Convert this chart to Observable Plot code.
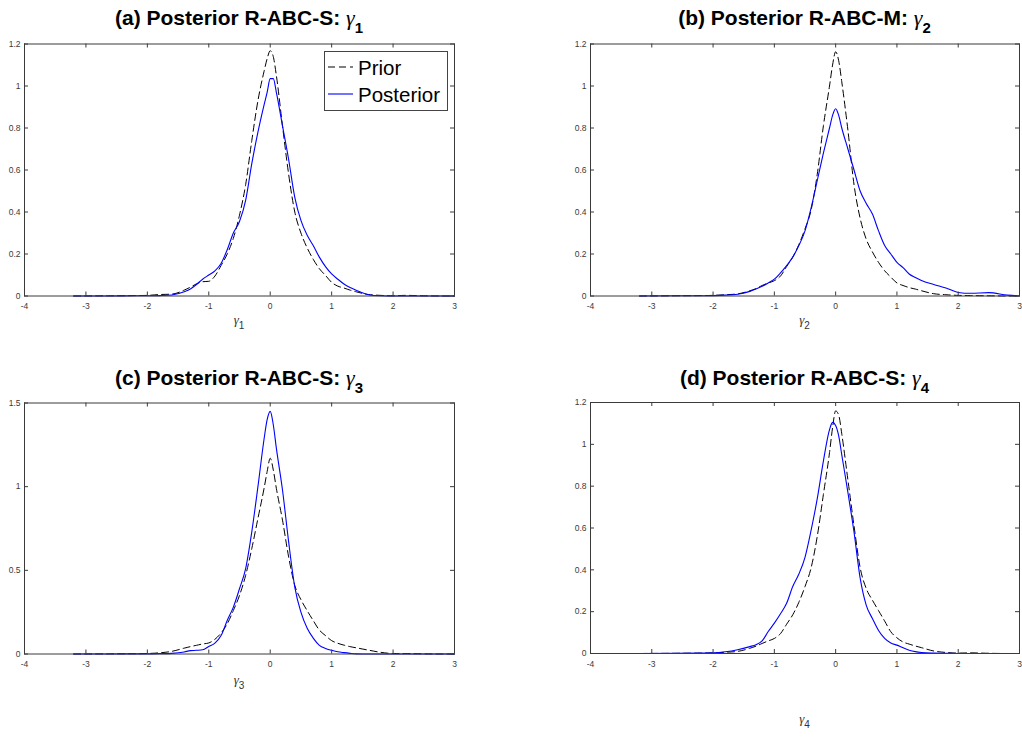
<!DOCTYPE html>
<html>
<head>
<meta charset="utf-8">
<script src="https://cdn.jsdelivr.net/npm/d3@7"></script>
<script src="https://cdn.jsdelivr.net/npm/@observablehq/plot@0.6"></script>
<style>
  html, body { margin: 0; padding: 0; background: #fff; }
  #wrap { position: relative; width: 1022px; height: 738px; background: #fff; overflow: hidden; }
  #wrap svg { position: absolute; }
</style>
</head>
<body>
<div id="wrap"></div>
<script>
// ---------- data ----------
const gridX = [-3.2, -2.6, -2.2, -2.0, -1.8, -1.6, -1.4, -1.3, -1.2, -1.1, -1.0, -0.9, -0.8, -0.7, -0.6, -0.5, -0.4, -0.3, -0.2, -0.1, -0.05, 0, 0.05, 0.1, 0.2, 0.3, 0.4, 0.5, 0.6, 0.7, 0.8, 0.9, 1.0, 1.1, 1.2, 1.3, 1.4, 1.6, 1.8, 2.0, 2.2, 2.5, 2.8, 3.0];

const priorA = [0, 0.001, 0.002, 0.003, 0.007, 0.009, 0.028, 0.042, 0.058, 0.068, 0.07, 0.095, 0.145, 0.2, 0.275, 0.385, 0.53, 0.74, 0.93, 1.07, 1.13, 1.168, 1.14, 1.05, 0.81, 0.58, 0.40, 0.30, 0.23, 0.175, 0.13, 0.098, 0.065, 0.047, 0.038, 0.028, 0.02, 0.007, 0.003, 0.001, 0.003, 0.001, 0, 0];
const postA  = [0, 0, 0.001, 0.001, 0.002, 0.005, 0.02, 0.033, 0.055, 0.08, 0.10, 0.12, 0.155, 0.22, 0.30, 0.355, 0.455, 0.63, 0.78, 0.91, 0.97, 1.035, 1.035, 0.97, 0.81, 0.65, 0.47, 0.36, 0.29, 0.24, 0.185, 0.14, 0.105, 0.08, 0.057, 0.04, 0.027, 0.006, 0.001, 0, 0, 0, 0, 0];

const priorB = [0, 0.001, 0.002, 0.003, 0.006, 0.01, 0.025, 0.035, 0.05, 0.062, 0.073, 0.095, 0.14, 0.185, 0.245, 0.32, 0.41, 0.58, 0.81, 1.0, 1.1, 1.163, 1.12, 1.02, 0.79, 0.53, 0.37, 0.27, 0.21, 0.16, 0.12, 0.09, 0.062, 0.05, 0.04, 0.033, 0.025, 0.011, 0.006, 0.003, 0.002, 0.001, 0, 0];
const postB  = [0, 0.001, 0.001, 0.002, 0.004, 0.008, 0.022, 0.033, 0.046, 0.062, 0.08, 0.11, 0.145, 0.185, 0.24, 0.31, 0.42, 0.55, 0.68, 0.80, 0.86, 0.892, 0.86, 0.80, 0.70, 0.60, 0.50, 0.44, 0.39, 0.31, 0.24, 0.20, 0.16, 0.135, 0.105, 0.088, 0.074, 0.055, 0.038, 0.017, 0.013, 0.016, 0.004, 0];

const priorC = [0, 0.001, 0.002, 0.003, 0.007, 0.016, 0.035, 0.044, 0.052, 0.06, 0.066, 0.088, 0.125, 0.18, 0.26, 0.35, 0.47, 0.63, 0.81, 0.99, 1.09, 1.17, 1.10, 0.99, 0.80, 0.58, 0.41, 0.325, 0.26, 0.20, 0.143, 0.11, 0.08, 0.064, 0.053, 0.044, 0.037, 0.023, 0.01, 0.003, 0.003, 0.001, 0, 0];
const postC  = [0, 0, 0.001, 0.001, 0.002, 0.004, 0.012, 0.02, 0.022, 0.025, 0.045, 0.065, 0.11, 0.20, 0.28, 0.39, 0.51, 0.73, 1.0, 1.285, 1.40, 1.45, 1.37, 1.23, 0.98, 0.67, 0.40, 0.25, 0.155, 0.095, 0.052, 0.033, 0.022, 0.013, 0.008, 0.004, 0.001, 0, 0, 0, 0, 0, 0, 0];

const priorD = [0, 0.001, 0.002, 0.003, 0.006, 0.01, 0.025, 0.035, 0.048, 0.06, 0.072, 0.095, 0.14, 0.185, 0.245, 0.32, 0.41, 0.56, 0.76, 0.96, 1.08, 1.16, 1.14, 1.05, 0.83, 0.61, 0.41, 0.31, 0.255, 0.205, 0.155, 0.104, 0.075, 0.055, 0.045, 0.036, 0.028, 0.012, 0.005, 0.002, 0.003, 0.001, 0, 0];
const postD  = [0, 0.001, 0.002, 0.003, 0.008, 0.018, 0.033, 0.042, 0.06, 0.105, 0.145, 0.19, 0.24, 0.32, 0.38, 0.46, 0.59, 0.74, 0.92, 1.07, 1.105, 1.09, 1.04, 0.95, 0.77, 0.58, 0.36, 0.23, 0.167, 0.11, 0.072, 0.05, 0.04, 0.027, 0.016, 0.009, 0.005, 0.002, 0.001, 0, 0, 0, 0, 0];

const xTicks = [-4, -3, -2, -1, 0, 1, 2, 3];
const yTicks12 = [0, 0.2, 0.4, 0.6, 0.8, 1, 1.2];
const yTicks15 = [0, 0.5, 1, 1.5];

const titleTexts = ["(a) Posterior R-ABC-S: ", "(b) Posterior R-ABC-M: ", "(c) Posterior R-ABC-S: ", "(d) Posterior R-ABC-S: "];
const subscripts = ["1", "2", "3", "4"];
const legendLabels = ["Prior", "Posterior"];

// ---------- layout ----------
const AX = "#3a3a3a";
const panels = [
  {prior: priorA, post: postA, yMax: 1.2, yTicks: yTicks12, left: 0,   top: 0,   ml: 24, mr: 57, mt: 43.5, mb: 34.5, titleY: 25,    labY: 324},
  {prior: priorB, post: postB, yMax: 1.2, yTicks: yTicks12, left: 511, top: 0,   ml: 79, mr: 3,  mt: 43.5, mb: 34.5, titleY: 25,    labY: 324},
  {prior: priorC, post: postC, yMax: 1.5, yTicks: yTicks15, left: 0,   top: 360, ml: 24, mr: 57, mt: 42.5, mb: 36.5, titleY: 384.5, labY: 684},
  {prior: priorD, post: postD, yMax: 1.2, yTicks: yTicks12, left: 511, top: 360, ml: 79, mr: 3,  mt: 42,   mb: 37,   titleY: 384.5, labY: 723}
];
const W = 511, H = 330;
const wrap = document.getElementById("wrap");

panels.forEach((p, k) => {
  const iw = W - p.ml - p.mr, ih = H - p.mt - p.mb;
  const svg = Plot.plot({
    width: W, height: H,
    marginLeft: p.ml, marginRight: p.mr, marginTop: p.mt, marginBottom: p.mb,
    x: {domain: [-4, 3]},
    y: {domain: [0, p.yMax]},
    style: {fontFamily: "'Liberation Sans', Arial, Helvetica, sans-serif", fontSize: "8.5px", color: AX, background: "transparent", overflow: "visible"},
    marks: [
      Plot.line(gridX, {x: gridX, y: p.prior, stroke: "#000", strokeWidth: 1, strokeDasharray: "7,4", curve: "monotone-x"}),
      Plot.line(gridX, {x: gridX, y: p.post, stroke: "#0000ff", strokeWidth: 1.1, curve: "monotone-x"}),
      Plot.tickX(xTicks, {x: d => d, insetTop: ih - 4, stroke: AX}),
      Plot.tickX(xTicks, {x: d => d, insetBottom: ih - 4, stroke: AX}),
      Plot.tickY(p.yTicks, {y: d => d, insetRight: iw - 4, stroke: AX}),
      Plot.tickY(p.yTicks, {y: d => d, insetLeft: iw - 4, stroke: AX}),
      Plot.axisX({ticks: xTicks, tickSize: 0, tickPadding: 7, tickFormat: d => String(d), label: null}),
      Plot.axisY({ticks: p.yTicks, tickSize: 0, tickPadding: 4, tickFormat: d => String(d), label: null}),
      Plot.frame({stroke: AX, strokeWidth: 1})
    ]
  });
  svg.style.left = p.left + "px";
  svg.style.top = p.top + "px";
  wrap.appendChild(svg);
});

// ---------- titles, axis labels and legend ----------
const ov = d3.select(wrap).append("svg")
  .attr("width", 1022).attr("height", 738)
  .style("left", "0px").style("top", "0px").style("pointer-events", "none")
  .attr("font-family", "'Liberation Sans', Arial, Helvetica, sans-serif");

panels.forEach((p, k) => {
  const cx = p.left + p.ml + (W - p.ml - p.mr) / 2;
  const t = ov.append("text").attr("x", cx).attr("y", p.titleY)
    .attr("text-anchor", "middle").attr("font-size", 21).attr("font-weight", "bold").attr("fill", "#000");
  t.append("tspan").text(titleTexts[k]);
  t.append("tspan").attr("font-family", "'Liberation Serif', serif").attr("font-style", "italic")
    .attr("font-weight", "normal").attr("font-size", 22).text("γ");
  t.append("tspan").attr("dy", 8).attr("font-size", 15).text(subscripts[k]);

  const l = ov.append("text").attr("x", cx).attr("y", p.labY)
    .attr("text-anchor", "middle").attr("font-size", 13).attr("fill", "#333");
  l.append("tspan").attr("font-family", "'Liberation Serif', serif").attr("font-style", "italic").text("γ");
  l.append("tspan").attr("dy", 5).attr("font-size", 10).text(subscripts[k]);
});

// legend in panel (a)
const lg = ov.append("g");
lg.append("rect").attr("x", 324.5).attr("y", 51.5).attr("width", 123).attr("height", 59)
  .attr("fill", "#fff").attr("stroke", "#444").attr("stroke-width", 1);
lg.append("line").attr("x1", 328).attr("x2", 353).attr("y1", 67).attr("y2", 67)
  .attr("stroke", "#000").attr("stroke-width", 1).attr("stroke-dasharray", "7,4");
lg.append("line").attr("x1", 328).attr("x2", 353).attr("y1", 94).attr("y2", 94)
  .attr("stroke", "#0000ff").attr("stroke-width", 1.1);
lg.append("text").attr("x", 358).attr("y", 74.5).attr("font-size", 20.5).attr("fill", "#000").text(legendLabels[0]);
lg.append("text").attr("x", 358).attr("y", 101.5).attr("font-size", 20.5).attr("fill", "#000").text(legendLabels[1]);
</script>
</body>
</html>
